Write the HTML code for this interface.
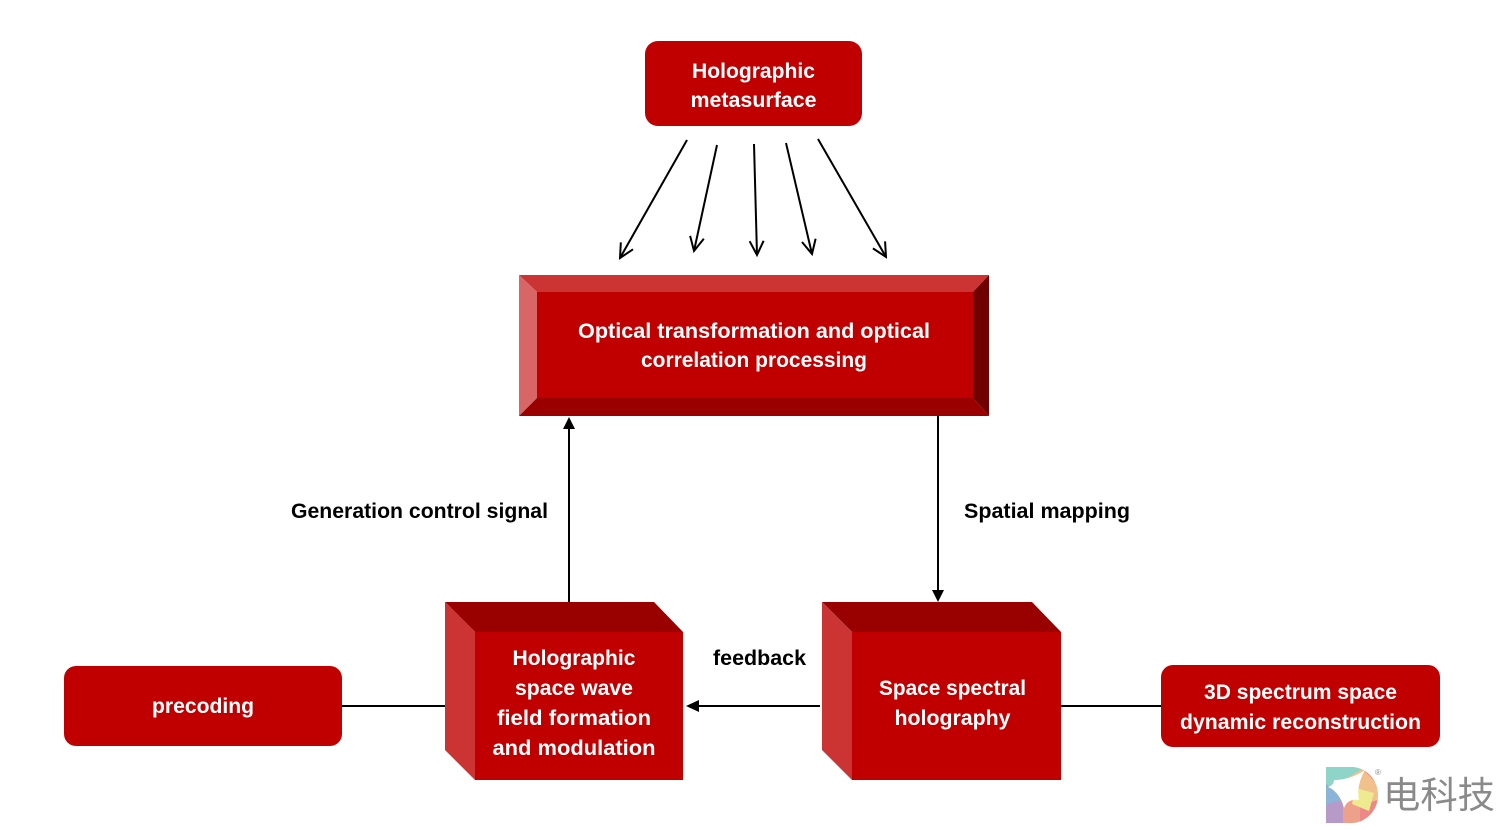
<!DOCTYPE html>
<html>
<head>
<meta charset="utf-8">
<style>
  html,body{margin:0;padding:0;background:#fff;}
  svg{display:block;}
  .w{font-family:"Liberation Sans",Arial,sans-serif;font-weight:bold;font-size:21px;fill:#fff;}
  .k{font-family:"Liberation Sans",Arial,sans-serif;font-weight:bold;font-size:21px;fill:#000;}
</style>
</head>
<body>
<svg width="1499" height="830" viewBox="0 0 1499 830" xmlns="http://www.w3.org/2000/svg">
  <defs>
    <marker id="open" viewBox="0 0 20 20" refX="18" refY="10" markerWidth="20" markerHeight="20" markerUnits="userSpaceOnUse" orient="auto">
      <path d="M4,3 L18,10 L4,17" fill="none" stroke="#000" stroke-width="2"/>
    </marker>
    <clipPath id="dclip">
      <path d="M1326,767 H1351 A27,28 0 0 1 1351,823 H1326 Z"/>
    </clipPath>
  </defs>

  <!-- Top rounded box -->
  <rect x="645" y="41" width="217" height="85" rx="13" ry="13" fill="#c00000"/>
  <text class="w" x="753.5" y="78" text-anchor="middle" textLength="123" lengthAdjust="spacingAndGlyphs">Holographic</text>
  <text class="w" x="753.5" y="107" text-anchor="middle" textLength="126" lengthAdjust="spacingAndGlyphs">metasurface</text>

  <!-- Fan arrows -->
  <g stroke="#000" stroke-width="2" fill="none">
    <line x1="687" y1="140" x2="620" y2="258" marker-end="url(#open)"/>
    <line x1="717" y1="145" x2="694" y2="251" marker-end="url(#open)"/>
    <line x1="754" y1="144" x2="757" y2="255" marker-end="url(#open)"/>
    <line x1="786" y1="143" x2="812" y2="254" marker-end="url(#open)"/>
    <line x1="818" y1="139" x2="886" y2="257" marker-end="url(#open)"/>
  </g>

  <!-- Main bevel box -->
  <rect x="537" y="292" width="436" height="106" fill="#c00000"/>
  <polygon points="519,275 989,275 973,292 537,292" fill="#cc3333"/>
  <polygon points="519,275 537,292 537,398 519,416" fill="#d86666"/>
  <polygon points="989,275 989,416 973,398 973,292" fill="#700000"/>
  <polygon points="519,416 989,416 973,398 537,398" fill="#9a0000"/>
  <text class="w" x="754" y="338" text-anchor="middle" textLength="352" lengthAdjust="spacingAndGlyphs">Optical transformation and optical</text>
  <text class="w" x="754" y="367" text-anchor="middle" textLength="226" lengthAdjust="spacingAndGlyphs">correlation processing</text>

  <!-- Vertical arrows -->
  <line x1="569" y1="602" x2="569" y2="426" stroke="#000" stroke-width="2"/>
  <polygon points="569,417 563,429 575,429" fill="#000"/>
  <line x1="938" y1="416" x2="938" y2="592" stroke="#000" stroke-width="2"/>
  <polygon points="938,602 932,590 944,590" fill="#000"/>

  <text class="k" x="291" y="518" textLength="257" lengthAdjust="spacingAndGlyphs">Generation control signal</text>
  <text class="k" x="964" y="518" textLength="166" lengthAdjust="spacingAndGlyphs">Spatial mapping</text>

  <!-- Left cube -->
  <polygon points="445,602 654,602 683,632 475,632" fill="#990000"/>
  <polygon points="445,602 475,632 475,780 445,750" fill="#cc3333"/>
  <rect x="475" y="632" width="208" height="148" fill="#c00000"/>
  <text class="w" x="574" y="665" text-anchor="middle" textLength="123" lengthAdjust="spacingAndGlyphs">Holographic</text>
  <text class="w" x="574" y="695" text-anchor="middle" textLength="118" lengthAdjust="spacingAndGlyphs">space wave</text>
  <text class="w" x="574" y="725" text-anchor="middle" textLength="154" lengthAdjust="spacingAndGlyphs">field formation</text>
  <text class="w" x="574" y="755" text-anchor="middle" textLength="163" lengthAdjust="spacingAndGlyphs">and modulation</text>

  <!-- Right cube -->
  <polygon points="822,602 1032,602 1061,632 852,632" fill="#990000"/>
  <polygon points="822,602 852,632 852,780 822,750" fill="#cc3333"/>
  <rect x="852" y="632" width="209" height="148" fill="#c00000"/>
  <text class="w" x="952.5" y="695" text-anchor="middle" textLength="147" lengthAdjust="spacingAndGlyphs">Space spectral</text>
  <text class="w" x="952.5" y="725" text-anchor="middle" textLength="116" lengthAdjust="spacingAndGlyphs">holography</text>

  <!-- feedback arrow -->
  <line x1="820" y1="706" x2="696" y2="706" stroke="#000" stroke-width="2"/>
  <polygon points="686,706 699,700 699,712" fill="#000"/>
  <text class="k" x="759.5" y="665" text-anchor="middle" textLength="93" lengthAdjust="spacingAndGlyphs">feedback</text>

  <!-- connecting lines -->
  <line x1="342" y1="706" x2="445" y2="706" stroke="#000" stroke-width="2"/>
  <line x1="1061" y1="706" x2="1161" y2="706" stroke="#000" stroke-width="2"/>

  <!-- precoding box -->
  <rect x="64" y="666" width="278" height="80" rx="12" ry="12" fill="#c00000"/>
  <text class="w" x="203" y="713" text-anchor="middle" textLength="102" lengthAdjust="spacingAndGlyphs">precoding</text>

  <!-- 3D box -->
  <rect x="1161" y="665" width="279" height="82" rx="12" ry="12" fill="#c00000"/>
  <text class="w" x="1300.5" y="699" text-anchor="middle" textLength="193" lengthAdjust="spacingAndGlyphs">3D spectrum space</text>
  <text class="w" x="1300.5" y="729" text-anchor="middle" textLength="241" lengthAdjust="spacingAndGlyphs">dynamic reconstruction</text>

  <!-- Watermark logo -->
  <g clip-path="url(#dclip)">
    <rect x="1326" y="767" width="60" height="60" fill="#f2c08a"/>
    <path d="M1326,767 H1366 Q1346,778 1326,792 Z" fill="#8fd4c8"/>
    <path d="M1360,767 H1382 V790 Q1372,778 1360,767 Z" fill="#ee9090"/>
    <path d="M1326,784 Q1338,792 1344,806 L1326,812 Z" fill="#8ab4d8"/>
    <path d="M1326,805 Q1338,799 1346,803 L1346,826 H1326 Z" fill="#b89ac8"/>
    <path d="M1343,801 Q1356,800 1364,806 L1364,826 H1343 Z" fill="#eda08a"/>
    <path d="M1360,806 Q1372,802 1382,798 V826 H1360 Z" fill="#ee8888"/>
    <path d="M1356,788 L1374,793 L1369,811 L1352,804 Z" fill="#eeea90"/>
    <path d="M1334,780 Q1350,780 1365,770 Q1356,786 1359,800 Q1348,798 1344,808 Q1340,792 1328,787 Q1334,785 1334,780 Z" fill="#fff"/>
  </g>
  <text x="1375" y="775" font-family="Liberation Sans,sans-serif" font-size="8" fill="#888">®</text>
  <text x="1383" y="808" font-family="'Noto Sans CJK SC','WenQuanYi Zen Hei',sans-serif" font-size="37" fill="#8a8a8a" textLength="112" lengthAdjust="spacingAndGlyphs">电科技</text>
</svg>
</body>
</html>
